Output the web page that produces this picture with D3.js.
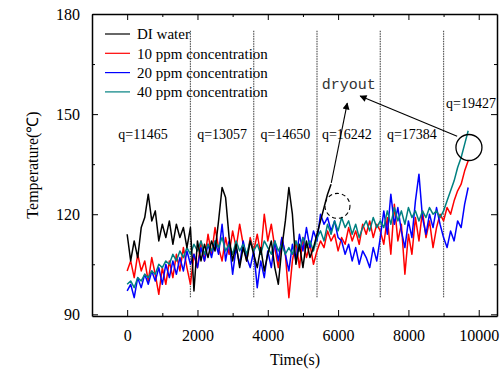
<!DOCTYPE html>
<html>
<head>
<meta charset="utf-8">
<script src="https://cdn.jsdelivr.net/npm/d3@7"></script>
<style>
  body { margin: 0; background: #fff; }
  svg { display: block; font-family: "Liberation Serif", "Times New Roman", serif; }
</style>
</head>
<body>
<svg id="chart" width="503" height="372"></svg>
<script>
// sampled every 100 s, starting at t = 0
const sampleStep = 100

const diWater = [114,106,112,107,116,119,126,118,121,112,117,113,118,111,117,113,116,110,116,97,
  112,106,111,107,112,109,118,128,125,113,106,111,104,110,106,112,108,104,110,103,
  108,112,104,99,110,118,128,120,105,111,104,112,107,110,114,118,122,126,129]

const ppm10 = [103,106,101,108,103,106,100,107,102,96,104,99,106,101,108,103,110,104,99,108,
  104,112,106,114,108,116,110,106,113,108,115,110,117,111,106,113,109,114,108,120,
  112,117,110,104,113,108,95,106,112,104,113,107,111,105,109,112,110,115,112,114,
  109,113,111,116,112,115,111,117,114,118,113,117,115,111,119,108,123,112,117,102,
  114,108,119,112,121,113,118,110,116,120,118,122,120,124,127,129,133,136]

const ppm20 = [97,99,95,101,98,102,99,103,100,104,99,105,101,106,102,107,103,109,105,108,
  104,110,106,111,107,112,108,117,106,112,102,110,105,112,107,104,109,98,106,101,
  109,104,112,106,113,108,103,111,106,114,109,116,110,115,112,120,117,119,115,118,
  113,112,108,111,106,110,105,109,107,104,110,106,113,121,114,126,117,122,115,110,
  118,113,124,132,119,114,120,116,122,117,113,110,115,112,118,116,123,128]

const ppm40 = [99,100,98,101,100,102,101,103,102,105,104,106,105,108,106,109,107,110,108,111,
  109,112,108,111,109,112,110,113,109,111,108,112,109,111,108,112,109,111,108,112,
  110,108,112,109,111,108,110,108,112,109,113,110,112,109,113,115,112,117,114,118,
  115,119,116,118,114,117,113,116,118,115,119,116,118,116,121,117,122,118,121,117,
  122,119,121,118,121,119,122,120,121,119,121,124,127,130,134,137,141,145]

const seriesNames = ["DI water", "10 ppm concentration", "20 ppm concentration", "40 ppm concentration"]
const seriesColors = ["#000000", "#ff0000", "#0000ff", "#008080"]

const heatSteps = [1800, 3600, 5400, 7200, 9000]
const qTexts = ["q=11465", "q=13057", "q=14650", "q=16242", "q=17384", "q=19427"]
const qTimes = [450, 2700, 4500, 6250, 8100, 9780]
const qTemps = [142.5, 142.5, 142.5, 142.5, 142.5, 151.8]

const xTicks = [0, 2000, 4000, 6000, 8000, 10000]
const yTicks = [90, 120, 150, 180]

const margin = { top: 14, right: 6, bottom: 56, left: 92 }
const width = 503 - margin.left - margin.right
const height = 372 - margin.top - margin.bottom

const svg = d3.select("#chart")

const xScale = d3.scaleLinear().domain([-1000, 10520]).range([0, width])
const yScale = d3.scaleLinear().domain([89.5, 180]).range([height, 0])

const group = svg.append("g")
  .attr("transform", `translate(${margin.left}, ${margin.top})`)

// dotted separators between heat flux steps
group.append("g")
  .selectAll("line")
  .data(heatSteps)
  .enter()
  .append("line")
    .attr("x1", d => xScale(d))
    .attr("x2", d => xScale(d))
    .attr("y1", yScale(175))
    .attr("y2", yScale(95))
    .attr("stroke", "#555")
    .attr("stroke-width", 1.2)
    .attr("stroke-dasharray", "1.5,1")

// series
const lineGen = d3.line()
  .x((d, i) => xScale(i * sampleStep))
  .y(d => yScale(d))

const drawOrder = [1, 2, 3, 0]
const allSeries = [diWater, ppm10, ppm20, ppm40]
drawOrder.forEach(k => {
  group.append("path")
    .datum(allSeries[k])
    .attr("d", lineGen)
    .attr("fill", "none")
    .attr("stroke", seriesColors[k])
    .attr("stroke-width", 1.5)
    .attr("stroke-linejoin", "round")
})

// axes, ticks pointing inward
const axisStyle = g => {
  g.select(".domain").attr("stroke", "#000").attr("stroke-width", 1.5)
  g.selectAll(".tick line").attr("stroke", "#000").attr("stroke-width", 1)
}

group.append("g")
  .attr("transform", `translate(0, ${height})`)
  .call(d3.axisBottom(xScale).tickValues(xTicks).tickFormat(d3.format("d"))
    .tickSizeInner(-6).tickSizeOuter(0).tickPadding(14))
  .call(axisStyle)
  .call(g => g.selectAll("text").attr("font-size", "16px").attr("font-family", "Liberation Serif").attr("fill", "#000"))

group.append("g")
  .attr("transform", `translate(0, ${height})`)
  .call(d3.axisBottom(xScale).tickValues([1000, 3000, 5000, 7000, 9000]).tickSize(-3).tickFormat(""))
  .call(g => g.select(".domain").remove())

group.append("g")
  .call(d3.axisTop(xScale).tickValues(xTicks).tickSizeInner(-6).tickSizeOuter(0).tickFormat(""))
  .call(axisStyle)

group.append("g")
  .call(d3.axisTop(xScale).tickValues([1000, 3000, 5000, 7000, 9000]).tickSize(-3).tickFormat(""))
  .call(g => g.select(".domain").remove())

group.append("g")
  .call(d3.axisLeft(yScale).tickValues(yTicks).tickSizeInner(-6).tickSizeOuter(0).tickPadding(12))
  .call(axisStyle)
  .call(g => g.selectAll("text").attr("font-size", "16px").attr("font-family", "Liberation Serif").attr("fill", "#000"))

group.append("g")
  .call(d3.axisLeft(yScale).tickValues([105, 135, 165]).tickSize(-3).tickFormat(""))
  .call(g => g.select(".domain").remove())

group.append("g")
  .attr("transform", `translate(${width}, 0)`)
  .call(d3.axisRight(yScale).tickValues(yTicks).tickSizeInner(-6).tickSizeOuter(0).tickFormat(""))
  .call(axisStyle)

group.append("g")
  .attr("transform", `translate(${width}, 0)`)
  .call(d3.axisRight(yScale).tickValues([105, 135, 165]).tickSize(-3).tickFormat(""))
  .call(g => g.select(".domain").remove())

// axis titles
svg.append("text")
  .attr("x", 295)
  .attr("y", 365)
  .attr("text-anchor", "middle")
  .attr("font-size", "16px")
  .text("Time(s)")

svg.append("text")
  .attr("transform", "translate(38, 165) rotate(-90)")
  .attr("text-anchor", "middle")
  .attr("font-size", "16px")
  .text("Temperature(℃)")

// heat flux labels
group.append("g")
  .selectAll("text")
  .data(qTexts)
  .enter()
  .append("text")
    .attr("x", (d, i) => xScale(qTimes[i]))
    .attr("y", (d, i) => yScale(qTemps[i]))
    .attr("text-anchor", "middle")
    .attr("font-size", "14px")
    .text(d => d)

// dryout annotation
group.append("text")
  .attr("x", xScale(6300))
  .attr("y", yScale(157.5))
  .attr("text-anchor", "middle")
  .attr("font-family", "Liberation Mono, monospace")
  .attr("font-size", "15px")
  .attr("fill", "#333")
  .text("dryout")

svg.append("defs").append("marker")
  .attr("id", "head")
  .attr("viewBox", "0 0 10 10")
  .attr("refX", 9).attr("refY", 5)
  .attr("markerWidth", 9).attr("markerHeight", 7)
  .attr("markerUnits", "userSpaceOnUse")
  .attr("orient", "auto")
  .append("path")
    .attr("d", "M0,0 L10,5 L0,10 z")
    .attr("fill", "#000")

const arrows = [
  { from: [5806, 129.4], to: [6261, 153.3] },
  { from: [9386, 143.4], to: [6628, 155.4] }
]
group.append("g")
  .selectAll("line")
  .data(arrows)
  .enter()
  .append("line")
    .attr("x1", d => xScale(d.from[0]))
    .attr("y1", d => yScale(d.from[1]))
    .attr("x2", d => xScale(d.to[0]))
    .attr("y2", d => yScale(d.to[1]))
    .attr("stroke", "#000")
    .attr("stroke-width", 1.1)
    .attr("marker-end", "url(#head)")

group.append("circle")
  .attr("cx", xScale(9722))
  .attr("cy", yScale(140))
  .attr("r", 13)
  .attr("fill", "none")
  .attr("stroke", "#000")
  .attr("stroke-width", 1.3)

group.append("circle")
  .attr("cx", xScale(5982))
  .attr("cy", yScale(122.5))
  .attr("r", 12.5)
  .attr("fill", "none")
  .attr("stroke", "#000")
  .attr("stroke-width", 1.1)
  .attr("stroke-dasharray", "4,3")

// legend
const legend = group.append("g")
  .selectAll("g")
  .data(seriesNames)
  .enter()
  .append("g")
    .attr("transform", (d, i) => `translate(13, ${20 + i * 19.3})`)

legend.append("line")
  .attr("x1", 0).attr("x2", 25)
  .attr("stroke", (d, i) => seriesColors[i])
  .attr("stroke-width", 1.2)

legend.append("text")
  .attr("x", 32)
  .attr("dy", "0.35em")
  .attr("font-size", "15px")
  .text(d => d)
</script>
</body>
</html>
